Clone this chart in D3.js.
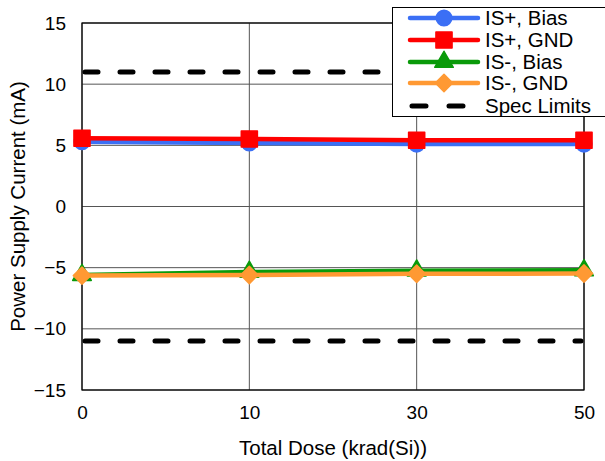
<!DOCTYPE html>
<html><head><meta charset="utf-8">
<script src="https://cdn.jsdelivr.net/npm/d3@7"></script>
<style>body{margin:0;background:#fff}svg{display:block}text{font-family:"Liberation Sans",Arial,sans-serif;fill:#000}</style>
</head><body>
<svg id="c" width="605" height="461"></svg>
<script>
const categories = ["0", "10", "30", "50"];
const yTicks = [-15, -10, -5, 0, 5, 10, 15];
const isPlusBias = [5.3, 5.2, 5.1, 5.1];
const isPlusGnd = [5.58, 5.52, 5.42, 5.42];
const isMinusBias = [-5.6, -5.35, -5.25, -5.22];
const isMinusGnd = [-5.65, -5.6, -5.5, -5.48];
const specLimits = [11, -11];
const seriesNames = ["IS+, Bias", "IS+, GND", "IS-, Bias", "IS-, GND", "Spec Limits"];

const series = [
  {name: seriesNames[0], values: isPlusBias, color: "#3b6ff5", sym: d3.symbolCircle, size: 190, rot: 0},
  {name: seriesNames[1], values: isPlusGnd, color: "#ff0000", sym: d3.symbolSquare, size: 260, rot: 0},
  {name: seriesNames[2], values: isMinusBias, color: "#0a9a0a", sym: d3.symbolTriangle, size: 150, rot: 0},
  {name: seriesNames[3], values: isMinusGnd, color: "#ff9933", sym: d3.symbolSquare, size: 150, rot: 45}
];

const svg = d3.select("#c");
const L = 82, R = 584, T = 23, B = 390;
const x = d3.scalePoint().domain(categories).range([L, R]);
const y = d3.scaleLinear().domain([-15, 15]).range([B, T]);

// grid
svg.append("g").selectAll("line").data(yTicks).join("line")
  .attr("x1", L).attr("x2", R).attr("y1", d => y(d)).attr("y2", d => y(d))
  .attr("stroke", "#555").attr("stroke-width", 1);
svg.append("g").selectAll("line").data(categories).join("line")
  .attr("x1", d => x(d)).attr("x2", d => x(d)).attr("y1", T).attr("y2", B)
  .attr("stroke", "#555").attr("stroke-width", 1);
svg.append("rect").attr("x", L).attr("y", T).attr("width", R - L).attr("height", B - T)
  .attr("fill", "none").attr("stroke", "#000").attr("stroke-width", 1.2);

// axes labels
const yAxis = d3.axisLeft(y).tickValues(yTicks).tickSize(0).tickPadding(16);
const ga = svg.append("g").attr("transform", `translate(${L},0)`).call(yAxis);
ga.select(".domain").remove();
ga.selectAll("text").style("font-size", "19px").style("font-family", '"Liberation Sans",Arial,sans-serif');
const xAxis = d3.axisBottom(x).tickSize(0).tickPadding(16);
const gx = svg.append("g").attr("transform", `translate(0,${B})`).call(xAxis);
gx.select(".domain").remove();
gx.selectAll("text").style("font-size", "19px").style("font-family", '"Liberation Sans",Arial,sans-serif');

svg.append("text").attr("x", (L + R) / 2).attr("y", 455).attr("text-anchor", "middle")
  .style("font-size", "20.5px").text("Total Dose (krad(Si))");
svg.append("text").attr("transform", `translate(25,${(T + B) / 2}) rotate(-90)`).attr("text-anchor", "middle")
  .style("font-size", "20.5px").text("Power Supply Current (mA)");

// spec limits
svg.append("g").selectAll("line").data(specLimits).join("line")
  .attr("x1", L + 3).attr("x2", R - 3).attr("y1", d => y(d)).attr("y2", d => y(d))
  .attr("stroke", "#000").attr("stroke-width", 5).attr("stroke-linecap", "round")
  .attr("stroke-dasharray", "13 22");

// series
const line = d3.line().x((d, i) => x(categories[i])).y(d => y(d));
series.forEach(s => {
  svg.append("path").datum(s.values).attr("d", line).attr("fill", "none")
    .attr("stroke", s.color).attr("stroke-width", 4.5);
  svg.append("g").selectAll("path").data(s.values).join("path")
    .attr("transform", (d, i) => `translate(${x(categories[i])},${y(d)}) rotate(${s.rot})`)
    .attr("d", d3.symbol().type(s.sym).size(s.size))
    .attr("fill", s.color).attr("stroke", s.color).attr("stroke-width", 1.5).attr("stroke-linejoin", "round");
});

// legend
const lg = svg.append("g");
lg.append("rect").attr("x", 392.5).attr("y", 7.5).attr("width", 220).attr("height", 109)
  .attr("fill", "#fff").attr("stroke", "#000").attr("stroke-width", 1);
const ly = [18, 40, 62, 83, 106];
series.forEach((s, i) => {
  lg.append("line").attr("x1", 410).attr("x2", 478).attr("y1", ly[i]).attr("y2", ly[i])
    .attr("stroke", s.color).attr("stroke-width", 4.5).attr("stroke-linecap", "round");
  lg.append("path").attr("transform", `translate(444,${ly[i]}) rotate(${s.rot})`)
    .attr("d", d3.symbol().type(s.sym).size(s.size))
    .attr("fill", s.color).attr("stroke", s.color).attr("stroke-width", 1.5).attr("stroke-linejoin", "round");
});
lg.append("line").attr("x1", 412).attr("x2", 476).attr("y1", ly[4]).attr("y2", ly[4])
  .attr("stroke", "#000").attr("stroke-width", 5).attr("stroke-linecap", "round")
  .attr("stroke-dasharray", "14 23");
seriesNames.forEach((n, i) => {
  lg.append("text").attr("x", 485).attr("y", ly[i] + 7).style("font-size", "20.5px").text(n);
});
</script>
</body></html>
